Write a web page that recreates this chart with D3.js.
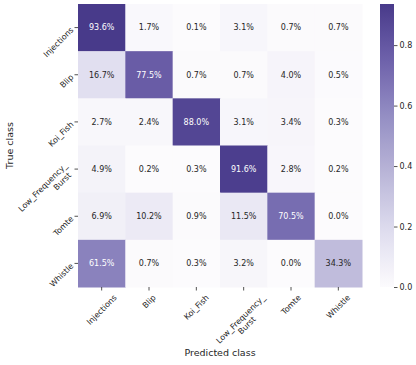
<!DOCTYPE html>
<html>
<head>
<meta charset="utf-8">
<script src="https://cdn.jsdelivr.net/npm/d3@7"></script>
<style>
  body { margin: 0; background: #fff; }
  text { font-family: "DejaVu Sans", sans-serif; fill: #262626; }
</style>
</head>
<body>
<svg id="cm" width="416" height="365"></svg>
<script>
// class names (rows = true class, cols = predicted class)
var classes = ["Injections", "Blip", "Koi_Fish", "Low_Frequency_\nBurst", "Tomte", "Whistle"];

// percentages per true class
var rowInjections = [93.6, 1.7, 0.1, 3.1, 0.7, 0.7];
var rowBlip       = [16.7, 77.5, 0.7, 0.7, 4.0, 0.5];
var rowKoiFish    = [2.7, 2.4, 88.0, 3.1, 3.4, 0.3];
var rowLowFreq    = [4.9, 0.2, 0.3, 91.6, 2.8, 0.2];
var rowTomte      = [6.9, 10.2, 0.9, 11.5, 70.5, 0.0];
var rowWhistle    = [61.5, 0.7, 0.3, 3.2, 0.0, 34.3];

var colorbarTicks = [0.0, 0.2, 0.4, 0.6, 0.8];
var vmax = 0.936;

function drawconfusion(svgname){
    var matrix = [rowInjections, rowBlip, rowKoiFish, rowLowFreq, rowTomte, rowWhistle];

    var cells = [];
    matrix.forEach(function(row, i){
        row.forEach(function(v, j){
            cells.push({"row": i, "col": j, "value": v / 100});
        });
    });

    // set the dimensions of the heatmap
    var m = {left: 78, top: 4, right: 362, bottom: 287};

    var svg = d3.select(svgname);

    var x = d3.scaleBand().domain(d3.range(classes.length)).range([m.left, m.right]);
    var y = d3.scaleBand().domain(d3.range(classes.length)).range([m.top, m.bottom]);

    // purples-like colour ramp
    var color = d3.scaleLinear()
        .domain([0, 0.2, 0.4, 0.6, 0.8, 1.0].map(function(t){ return t * vmax; }))
        .range(["#fcfbfd", "#dedcee", "#bab6d8", "#958fc4", "#6e62ab", "#483a8a"])
        .clamp(true);

    // cells
    svg.selectAll(".cell")
        .data(cells)
        .enter().append("rect")
        .attr("class", "cell")
        .attr("x", function(d){ return x(d.col); })
        .attr("y", function(d){ return y(d.row); })
        .attr("width", x.bandwidth() + 0.5)
        .attr("height", y.bandwidth() + 0.5)
        .style("fill", function(d){ return color(d.value); });

    // cell labels
    svg.selectAll(".val")
        .data(cells)
        .enter().append("text")
        .attr("class", "val")
        .attr("x", function(d){ return x(d.col) + x.bandwidth() / 2; })
        .attr("y", function(d){ return y(d.row) + y.bandwidth() / 2; })
        .attr("dy", "0.35em")
        .attr("text-anchor", "middle")
        .style("font-size", "8px")
        .style("fill", function(d){ return d.value > 0.5 ? "#ffffff" : "#262626"; })
        .text(function(d){ return (d.value * 100).toFixed(1) + "%"; });

    // y ticks
    svg.selectAll(".ytick")
        .data(classes)
        .enter().append("line")
        .attr("x1", m.left - 3.5).attr("x2", m.left)
        .attr("y1", function(d, i){ return y(i) + y.bandwidth() / 2; })
        .attr("y2", function(d, i){ return y(i) + y.bandwidth() / 2; })
        .style("stroke", "#262626").style("stroke-width", 0.8);

    var ylab = svg.selectAll(".ylab")
        .data(classes)
        .enter().append("text")
        .attr("class", "ylab")
        .attr("text-anchor", "end")
        .style("font-size", "8px")
        .attr("transform", function(d, i){
            var multi = d.indexOf("\n") >= 0;
            var ax = multi ? m.left - 12 : m.left - 6;
            var ay = y(i) + y.bandwidth() / 2 + (multi ? 1 : 1);
            return "translate(" + ax + "," + ay + ") rotate(-45)";
        });
    ylab.each(function(d){
        var lines = d.split("\n");
        var t = d3.select(this);
        lines.forEach(function(l, k){
            t.append("tspan").attr("x", (lines.length > 1 && k == 0) ? 4 : 0)
                .attr("dy", k == 0 ? (0.35 - (lines.length - 1) * 0.55) + "em" : "1.2em")
                .text(l);
        });
    });

    // x ticks
    svg.selectAll(".xtick")
        .data(classes)
        .enter().append("line")
        .attr("y1", m.bottom).attr("y2", m.bottom + 3.5)
        .attr("x1", function(d, i){ return x(i) + x.bandwidth() / 2; })
        .attr("x2", function(d, i){ return x(i) + x.bandwidth() / 2; })
        .style("stroke", "#262626").style("stroke-width", 0.8);

    var xlab = svg.selectAll(".xlab")
        .data(classes)
        .enter().append("text")
        .attr("class", "xlab")
        .attr("text-anchor", "middle")
        .style("font-size", "8px");
    xlab.each(function(d, i){
        var lines = d.split("\n");
        var t = d3.select(this);
        lines.forEach(function(l, k){
            t.append("tspan").attr("x", 0)
                .attr("dy", k == 0 ? (0.35 - (lines.length - 1) * 0.55) + "em" : "1.1em")
                .text(l);
        });
        // centre the rotated box under the tick
        var w = d3.max(t.selectAll("tspan").nodes(), function(n){ return n.getComputedTextLength(); });
        var h = lines.length * 8.8;
        var half = (w + h) * Math.SQRT1_2 / 2;
        t.attr("transform", "translate(" + (x(i) + x.bandwidth() / 2) + "," + (m.bottom + 6 + half) + ") rotate(-45)");
    });

    // axis titles
    svg.append("text")
        .attr("transform", "translate(13," + ((m.top + m.bottom) / 2) + ") rotate(-90)")
        .attr("text-anchor", "middle")
        .style("font-size", "9.5px")
        .text("True class");

    svg.append("text")
        .attr("x", (m.left + m.right) / 2)
        .attr("y", 356)
        .attr("text-anchor", "middle")
        .style("font-size", "9.5px")
        .text("Predicted class");

    // colorbar
    var cbx = 380, cbw = 14;
    var cy = d3.scaleLinear().domain([0, vmax]).range([m.bottom, m.top]);

    var grad = svg.append("defs").append("linearGradient")
        .attr("id", "cbgrad")
        .attr("x1", "0").attr("y1", "1").attr("x2", "0").attr("y2", "0");
    d3.range(0, 1.0001, 0.05).forEach(function(t){
        grad.append("stop").attr("offset", t).attr("stop-color", color(t * vmax));
    });

    svg.append("rect")
        .attr("x", cbx).attr("y", m.top)
        .attr("width", cbw).attr("height", m.bottom - m.top)
        .style("fill", "url(#cbgrad)");

    var cbaxis = svg.append("g")
        .attr("transform", "translate(" + (cbx + cbw) + ",0)")
        .call(d3.axisRight(cy).tickValues(colorbarTicks).tickFormat(d3.format(".1f")).tickSize(3.5).tickPadding(2));
    cbaxis.select(".domain").remove();
    cbaxis.selectAll("line").style("stroke", "#262626").style("stroke-width", 0.8);
    cbaxis.selectAll("text").style("font-size", "8px").style("font-family", "DejaVu Sans, sans-serif").style("fill", "#262626");
}

drawconfusion("#cm");
</script>
</body>
</html>
